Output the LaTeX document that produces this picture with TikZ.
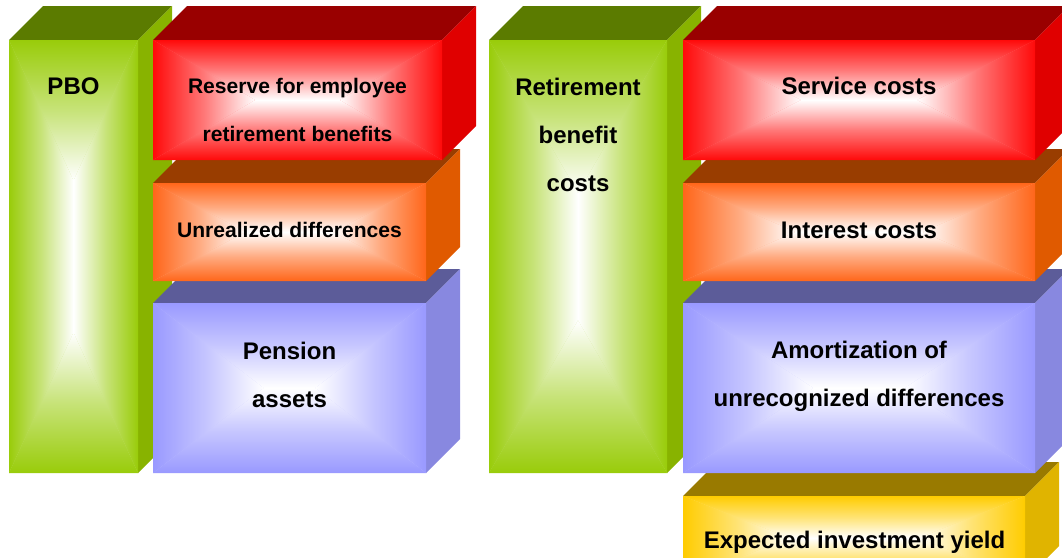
\documentclass[tikz,border=0pt]{standalone}
\usepackage{fontspec}
\setmainfont{Liberation Sans}

% face colours: front, top, side
\definecolor{grn}{HTML}{99CC0A}
\definecolor{grntop}{HTML}{5B7B00}
\definecolor{grnside}{HTML}{88B300}
\definecolor{rd}{HTML}{FF0A0A}
\definecolor{rdtop}{HTML}{990000}
\definecolor{rdside}{HTML}{E00000}
\definecolor{org}{HTML}{FF661A}
\definecolor{orgtop}{HTML}{993D00}
\definecolor{orgside}{HTML}{E05A00}
\definecolor{prp}{HTML}{9999FF}
\definecolor{prptop}{HTML}{5C5C99}
\definecolor{prpside}{HTML}{8888E0}
\definecolor{ylw}{HTML}{FFCC00}
\definecolor{ylwtop}{HTML}{997A00}
\definecolor{ylwside}{HTML}{E0B400}

\tikzset{
  lbl/.style={font=\bfseries\fontsize{18}{36}\selectfont, align=center, text=black},
  lblsm/.style={lbl, font=\bfseries\fontsize{15.8}{36}\selectfont}
}

% 3d block: x1, y1, x2, y2 of the front face, colour name
% front face is four shaded wedges running from the rim to a white core
\newcommand{\slab}[5]{%
  \fill[#5top] (#1,#2) -- ++(34,-34) -- ({#3+34},{#2-34}) -- (#3,#2) -- cycle;
  \fill[#5side] (#3,#2) -- ({#3+34},{#2-34}) -- ({#3+34},{#4-34}) -- (#3,#4) -- cycle;
  \fill[#5!55!white] (#1,#2) rectangle (#3,#4);
  \pgfmathsetmacro{\slabm}{min(#3-#1,#4-#2)}
  \pgfmathsetmacro{\slabdx}{\slabm/2+(#3-#1-\slabm)/4}
  \pgfmathsetmacro{\slabdy}{\slabm/2+(#4-#2-\slabm)/4}
  \coordinate (inA) at ({#1+\slabdx},{#2+\slabdy});
  \coordinate (inB) at ({#3-\slabdx},{#2+\slabdy});
  \coordinate (inC) at ({#3-\slabdx},{#4-\slabdy});
  \coordinate (inD) at ({#1+\slabdx},{#4-\slabdy});
  \shade[top color=#5, bottom color=white, middle color=#5!55!white] (#1,#2) -- (#3,#2) -- (inB) -- (inA) -- cycle;
  \shade[top color=white, bottom color=#5, middle color=#5!55!white] (#1,#4) -- (#3,#4) -- (inC) -- (inD) -- cycle;
  \shade[left color=#5, right color=white, middle color=#5!55!white] (#1,#2) -- (#1,#4) -- (inD) -- (inA) -- cycle;
  \shade[left color=white, right color=#5, middle color=#5!55!white] (#3,#2) -- (#3,#4) -- (inC) -- (inB) -- cycle;
}

\begin{document}
\begin{tikzpicture}[x=0.75pt,y=-0.75pt]
  \useasboundingbox (0,0) rectangle (1062,557);
  \clip (0,0) rectangle (1062,557);

  % balance sheet side
  \slab{9}{40}{138}{473}{grn}
  \slab{153}{303}{426}{473}{prp}
  \slab{153}{183}{426}{281}{org}
  \slab{153}{40}{442}{160}{rd}

  % cost side
  \slab{489}{40}{667}{473}{grn}
  \slab{683}{496}{1025}{580}{ylw}
  \slab{683}{303}{1035}{473}{prp}
  \slab{683}{183}{1035}{281}{org}
  \slab{683}{40}{1035}{160}{rd}

  \node[lbl] (pbo) at (73.5,86) {PBO};
  \node[lblsm] (reserve) at (297.5,110) {Reserve for employee\\retirement benefits};
  \node[lblsm] (unreal) at (289.5,230) {Unrealized differences};
  \node[lbl] (pension) at (289.5,375) {Pension\\assets};

  \node[lbl] (retire) at (578,135) {Retirement\\benefit\\costs};
  \node[lbl] (service) at (859,86) {Service costs};
  \node[lbl] (interest) at (859,230) {Interest costs};
  \node[lbl] (amort) at (859,376) {Amortization of\\unrecognized differences};
  \node[lbl] (yield) at (854.5,542) {Expected investment yield};
\end{tikzpicture}
\end{document}
